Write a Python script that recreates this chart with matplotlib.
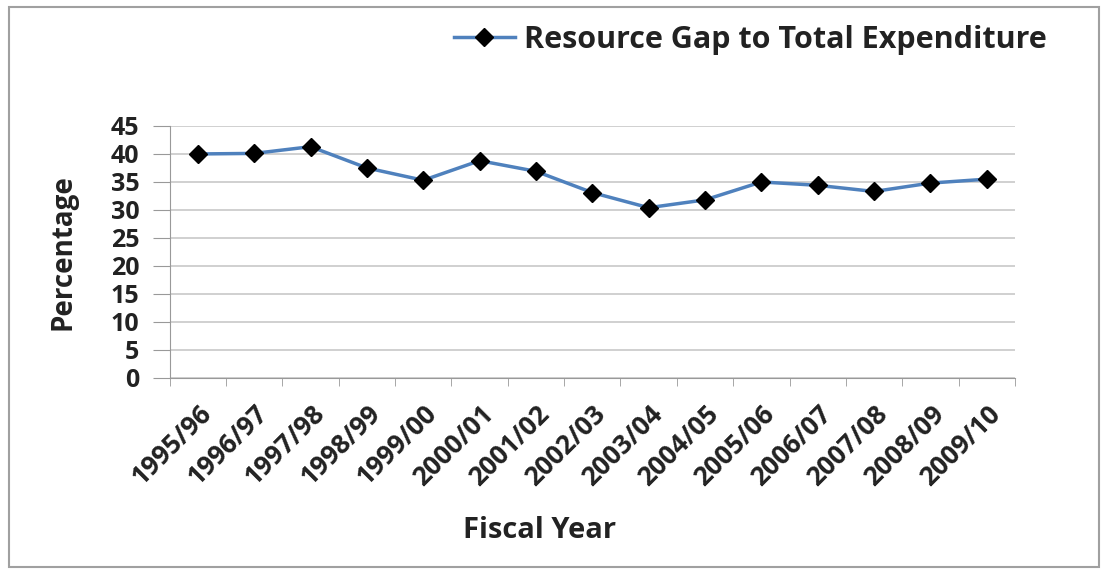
import matplotlib.pyplot as plt
from matplotlib.patches import Rectangle
from matplotlib.ticker import FixedLocator
import numpy as np

years = ["1995/96", "1996/97", "1997/98", "1998/99", "1999/00", "2000/01",
         "2001/02", "2002/03", "2003/04", "2004/05", "2005/06", "2006/07",
         "2007/08", "2008/09", "2009/10"]
gap_pct = [40.0, 40.1, 41.3, 37.5, 35.3, 38.8, 36.9, 33.1,
           30.4, 31.8, 35.0, 34.4, 33.3, 34.8, 35.5]
yticks = [0, 5, 10, 15, 20, 25, 30, 35, 40, 45]

plt.rcParams['font.family'] = ['Open Sans', 'DejaVu Sans']

fig = plt.figure(figsize=(11.02, 5.70), dpi=100)
ax = fig.add_axes([0.154, 0.337, 0.767, 0.442])

x = np.arange(len(years))
ax.plot(x, gap_pct, color='#4F81BD', lw=2.5, marker='D', ms=9,
        mfc='black', mec='black', label='Resource Gap to Total Expenditure')

ax.set_xlim(-0.5, len(years) - 0.5)
ax.set_ylim(0, 45)
ax.set_yticks(yticks)
ax.set_xticks(x)
ax.set_xticklabels(years, rotation=45, ha='right', rotation_mode='anchor',
                   fontsize=19, fontweight='bold', color='#222222')
ax.xaxis.set_minor_locator(FixedLocator(np.arange(-0.5, len(years), 1.0)))
ax.tick_params(axis='x', which='major', length=0, pad=16)
ax.tick_params(axis='x', which='minor', length=6, color='#999999', direction='out')
ax.tick_params(axis='y', length=12, color='#999999', labelsize=18, pad=10,
               labelcolor='#222222')
for lab in ax.get_yticklabels():
    lab.set_fontweight('bold')

ax.grid(axis='y', color='#c8c8c8', lw=1.2)
ax.set_axisbelow(True)
for side in ['top', 'right']:
    ax.spines[side].set_visible(False)
ax.spines['left'].set_color('#999999')
ax.spines['bottom'].set_color('#999999')

ax.set_ylabel('Percentage', fontsize=20, fontweight='bold', color='#222222', labelpad=24)
ax.set_xlabel('Fiscal Year', fontsize=21, fontweight='bold', color='#222222')
ax.xaxis.set_label_coords(0.437, -0.55)

fig.legend(loc='center right', bbox_to_anchor=(0.975, 0.93), frameon=False,
           prop={'size': 22, 'weight': 'bold'}, handlelength=2.0,
           handletextpad=0.3, labelcolor='#222222')

# thin frame around the whole chart
fig.add_artist(Rectangle((0.008, 0.006), 0.989, 0.982, transform=fig.transFigure,
                         fill=False, ec='#a0a0a0', lw=1.5))

fig.savefig('out.png', dpi=100)
